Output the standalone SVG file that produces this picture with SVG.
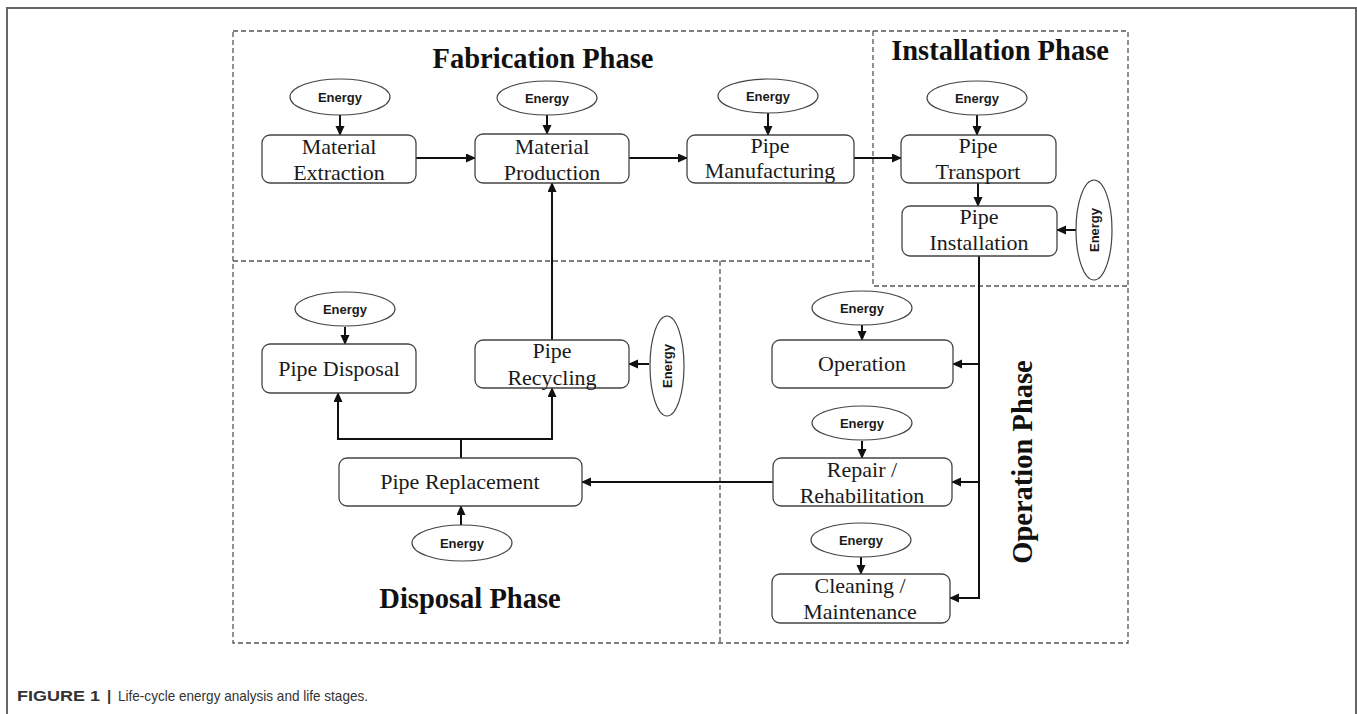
<svg xmlns="http://www.w3.org/2000/svg" width="1357" height="714" viewBox="0 0 1357 714">
<style>
.frame{fill:none;stroke:#666;stroke-width:2}
.dash{fill:none;stroke:#555;stroke-width:1.3;stroke-dasharray:5,3}
.box{fill:#fff;stroke:#444;stroke-width:1.3}
.ell{fill:#fff;stroke:#444;stroke-width:1.2}
.t{font-family:"Liberation Serif","Times New Roman",serif;font-size:22px;fill:#1a1a1a;text-anchor:middle}
.e{font-family:"Liberation Sans",Arial,sans-serif;font-size:13px;font-weight:bold;fill:#1a1a1a;text-anchor:middle}
.ph{font-family:"Liberation Serif","Times New Roman",serif;font-size:28.5px;font-weight:bold;fill:#111;text-anchor:middle}
.c{fill:none;stroke:#111;stroke-width:2}
.cap{font-family:"Liberation Sans",Arial,sans-serif;font-size:15px;fill:#333}
</style>
<defs>
<marker id="ah" markerUnits="userSpaceOnUse" markerWidth="10" markerHeight="10" refX="9" refY="4.5" orient="auto">
<path d="M0,0 L10,4.5 L0,9 z" fill="#111"/>
</marker>
</defs>
<rect width="1357" height="714" fill="#fff"/>
<path class="frame" d="M7,714 V8 H1356 V714"/>
<g id="phases">
<path class="dash" d="M233,31 H1128 V643 H233 Z"/>
<path class="dash" d="M233,261 H873"/>
<path class="dash" d="M873,31 V286 H1128"/>
<path class="dash" d="M720,261 V643"/>
<text class="ph" x="543" y="68">Fabrication Phase</text>
<text class="ph" x="1000" y="60">Installation Phase</text>
<text class="ph" x="470" y="608">Disposal Phase</text>
<text class="ph" transform="translate(1032,462) rotate(-90)">Operation Phase</text>
</g>
<g id="connectors">
<path class="c" marker-end="url(#ah)" d="M340,115 V135"/>
<path class="c" marker-end="url(#ah)" d="M547,115 V134"/>
<path class="c" marker-end="url(#ah)" d="M768,113 V135"/>
<path class="c" marker-end="url(#ah)" d="M977,115 V135"/>
<path class="c" marker-end="url(#ah)" d="M416,158 H475"/>
<path class="c" marker-end="url(#ah)" d="M629,158 H687"/>
<path class="c" marker-end="url(#ah)" d="M854,158 H901"/>
<path class="c" marker-end="url(#ah)" d="M978,183 V206"/>
<path class="c" marker-end="url(#ah)" d="M1076,230 H1057"/>
<path class="c" marker-end="url(#ah)" d="M979,256 V598 H950"/>
<path class="c" marker-end="url(#ah)" d="M979,364 H953"/>
<path class="c" marker-end="url(#ah)" d="M979,482 H952"/>
<path class="c" marker-end="url(#ah)" d="M862,325 V340"/>
<path class="c" marker-end="url(#ah)" d="M862,441 V458"/>
<path class="c" marker-end="url(#ah)" d="M861,557 V574"/>
<path class="c" marker-end="url(#ah)" d="M773,482 H582"/>
<path class="c" d="M461,458 V439"/>
<path class="c" marker-end="url(#ah)" d="M461,439 H338 V393"/>
<path class="c" marker-end="url(#ah)" d="M461,439 H552 V388"/>
<path class="c" marker-end="url(#ah)" d="M552,340 V183"/>
<path class="c" marker-end="url(#ah)" d="M649,364 H629"/>
<path class="c" marker-end="url(#ah)" d="M345,327 V344"/>
<path class="c" marker-end="url(#ah)" d="M461,525 V506"/>
</g>
<g id="material-extraction">
<rect class="box" x="262" y="135" width="154" height="48" rx="8"/>
<text class="t" x="339" y="154">Material</text>
<text class="t" x="339" y="180">Extraction</text>
</g>
<g id="energy-1"><ellipse class="ell" cx="340" cy="97" rx="50" ry="18"/><text class="e" x="340" y="102">Energy</text></g>
<g id="material-production">
<rect class="box" x="475" y="134" width="154" height="49" rx="8"/>
<text class="t" x="552" y="154">Material</text>
<text class="t" x="552" y="180">Production</text>
</g>
<g id="energy-2"><ellipse class="ell" cx="547" cy="98" rx="50" ry="17"/><text class="e" x="547" y="103">Energy</text></g>
<g id="pipe-manufacturing">
<rect class="box" x="687" y="135" width="167" height="48" rx="8"/>
<text class="t" x="770" y="153">Pipe</text>
<text class="t" x="770" y="178">Manufacturing</text>
</g>
<g id="energy-3"><ellipse class="ell" cx="768" cy="96" rx="50" ry="17"/><text class="e" x="768" y="101">Energy</text></g>
<g id="pipe-transport">
<rect class="box" x="901" y="135" width="155" height="48" rx="8"/>
<text class="t" x="978" y="153">Pipe</text>
<text class="t" x="978" y="179">Transport</text>
</g>
<g id="energy-4"><ellipse class="ell" cx="977" cy="98" rx="50" ry="17"/><text class="e" x="977" y="103">Energy</text></g>
<g id="pipe-installation">
<rect class="box" x="902" y="206" width="155" height="50" rx="8"/>
<text class="t" x="979" y="224">Pipe</text>
<text class="t" x="979" y="250">Installation</text>
</g>
<g id="energy-5"><ellipse class="ell" cx="1094" cy="230" rx="18" ry="50"/><text class="e" transform="translate(1099,230) rotate(-90)">Energy</text></g>
<g id="operation">
<rect class="box" x="772" y="340" width="181" height="48" rx="8"/>
<text class="t" x="862" y="371">Operation</text>
</g>
<g id="energy-6"><ellipse class="ell" cx="862" cy="308" rx="50" ry="17"/><text class="e" x="862" y="313">Energy</text></g>
<g id="repair">
<rect class="box" x="773" y="458" width="179" height="48" rx="8"/>
<text class="t" x="862" y="477">Repair /</text>
<text class="t" x="862" y="503">Rehabilitation</text>
</g>
<g id="energy-7"><ellipse class="ell" cx="862" cy="423" rx="50" ry="17"/><text class="e" x="862" y="428">Energy</text></g>
<g id="cleaning">
<rect class="box" x="772" y="574" width="178" height="49" rx="8"/>
<text class="t" x="860" y="593">Cleaning /</text>
<text class="t" x="860" y="619">Maintenance</text>
</g>
<g id="energy-8"><ellipse class="ell" cx="861" cy="540" rx="50" ry="17"/><text class="e" x="861" y="545">Energy</text></g>
<g id="pipe-disposal">
<rect class="box" x="262" y="344" width="154" height="49" rx="8"/>
<text class="t" x="339" y="376">Pipe Disposal</text>
</g>
<g id="energy-9"><ellipse class="ell" cx="345" cy="309" rx="50" ry="17"/><text class="e" x="345" y="314">Energy</text></g>
<g id="pipe-recycling">
<rect class="box" x="475" y="340" width="154" height="48" rx="8"/>
<text class="t" x="552" y="358">Pipe</text>
<text class="t" x="552" y="385">Recycling</text>
</g>
<g id="energy-10"><ellipse class="ell" cx="667" cy="366" rx="17" ry="50"/><text class="e" transform="translate(672,366) rotate(-90)">Energy</text></g>
<g id="pipe-replacement">
<rect class="box" x="339" y="458" width="243" height="48" rx="8"/>
<text class="t" x="460" y="489">Pipe Replacement</text>
</g>
<g id="energy-11"><ellipse class="ell" cx="462" cy="543" rx="50" ry="18"/><text class="e" x="462" y="548">Energy</text></g>
<g id="caption">
<text class="cap" x="17" y="701" font-weight="bold" font-size="15.5" textLength="83" lengthAdjust="spacingAndGlyphs">FIGURE 1</text>
<text class="cap" x="107" y="701" font-weight="bold" font-size="15.5">|</text>
<text class="cap" x="118" y="701" font-size="16" textLength="250" lengthAdjust="spacingAndGlyphs">Life-cycle energy analysis and life stages.</text>
</g>
</svg>
